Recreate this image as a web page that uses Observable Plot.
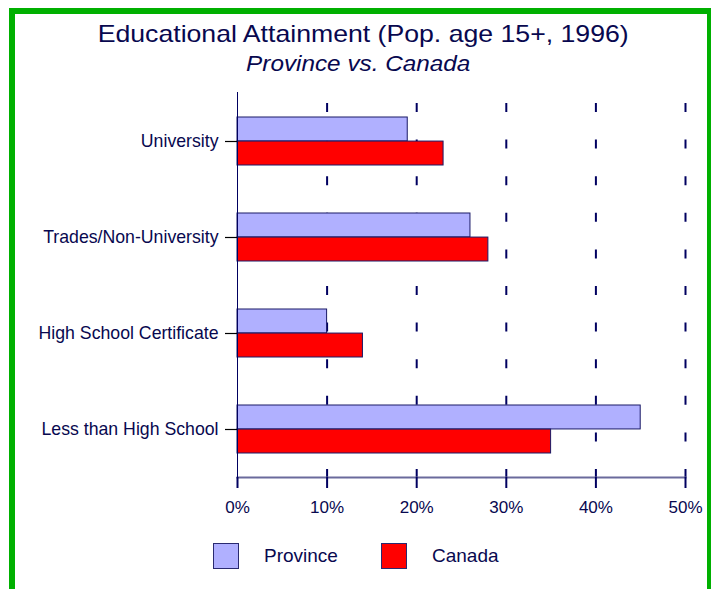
<!DOCTYPE html>
<html>
<head>
<meta charset="utf-8">
<script src="https://cdn.jsdelivr.net/npm/d3@7"></script>
<script src="https://cdn.jsdelivr.net/npm/@observablehq/plot@0.6"></script>
<style>
  html, body { margin: 0; padding: 0; background: #fff; }
  #wrap { position: relative; width: 711px; height: 589px; overflow: hidden; font-family: "Liberation Sans", Arial, sans-serif; color: #08084f; }
  #border { position: absolute; left: 9px; top: 8px; width: 704px; height: 620px; border: 6px solid #00b000; box-sizing: border-box; }
  .ttl { position: absolute; left: 0; width: 711px; text-align: center; white-space: nowrap; line-height: 1; }
  .ttl span { display: inline-block; transform-origin: center; }
  #chart { position: absolute; left: 0; top: 80px; }
  .sw { position: absolute; width: 26px; height: 26px; box-sizing: border-box; border: 1.5px solid #2a2a70; }
  .lt { position: absolute; font-size: 19px; line-height: 1; white-space: nowrap; }
</style>
</head>
<body>
<div id="wrap">
  <div id="border"></div>
  <div class="ttl" id="title" style="top:21.7px; left:7.5px; font-size:24px;"><span style="transform:scaleX(1.11)"></span></div>
  <div class="ttl" id="subtitle" style="top:53.8px; left:2.5px; font-size:21.5px; font-style:italic;"><span style="transform:scaleX(1.13)"></span></div>
  <div id="chart"></div>
  <div id="legend"></div>
</div>
<script>
const titleText = "Educational Attainment (Pop. age 15+, 1996)";
const subtitleText = "Province vs. Canada";
const categories = ["University", "Trades/Non-University", "High School Certificate", "Less than High School"];
const seriesNames = ["Province", "Canada"];
const provinceValues = [19, 26, 10, 45];
const canadaValues = [23, 28, 14, 35];
const xTicks = [0, 10, 20, 30, 40, 50];

const navy = "#000060";
const textColor = "#08084f";
const colors = {Province: "#b0b0ff", Canada: "#ff0000"};

document.querySelector("#title span").textContent = titleText;
document.querySelector("#subtitle span").textContent = subtitleText;

const provData = categories.map((c, i) => ({category: c, series: seriesNames[0], value: provinceValues[i]}));
const canData = categories.map((c, i) => ({category: c, series: seriesNames[1], value: canadaValues[i]}));

const H = 440, mT = 12, mB = 43;
const half = (H - mT - mB) / categories.length * 0.5 / 2;

const chart = Plot.plot({
  width: 711,
  height: H,
  marginTop: mT,
  marginBottom: mB,
  marginLeft: 237,
  marginRight: 26,
  style: {fontFamily: "Liberation Sans, Arial, sans-serif", fontSize: "17px", background: "transparent", overflow: "visible"},
  x: {domain: [0, 50]},
  y: {domain: categories, paddingInner: 0.5, paddingOuter: 0.25},
  marks: [
    Plot.ruleX(xTicks.filter(d => d > 0), {stroke: navy, strokeWidth: 2, strokeDasharray: "9,27.6", strokeDashoffset: 25.6}),
    Plot.barX(provData, {x: "value", y: "category", fill: colors.Province, stroke: "#1a1a66", strokeWidth: 1, insetBottom: half}),
    Plot.barX(canData, {x: "value", y: "category", fill: colors.Canada, stroke: "#1a1a66", strokeWidth: 1, insetTop: half}),
    Plot.frame({anchor: "bottom", stroke: "#6a6a9c", strokeWidth: 2}),
    Plot.ruleX([0], {stroke: navy, strokeWidth: 1}),
    Plot.axisX({ticks: xTicks, tickFormat: d => d + "%", tickSize: 11, tickPadding: 12, stroke: navy, strokeWidth: 2, fill: textColor, fontSize: 17, label: null}),
    Plot.axisY({tickSize: 12, tickPadding: 7, stroke: "black", strokeWidth: 1.2, fill: textColor, fontSize: 17.7, label: null})
  ]
});
document.getElementById("chart").appendChild(chart);

// Legend
const legend = document.getElementById("legend");
const legendItems = [
  {name: seriesNames[0], sx: 213, tx: 264},
  {name: seriesNames[1], sx: 381, tx: 432}
];
legendItems.forEach(it => {
  const sw = document.createElement("div");
  sw.className = "sw";
  sw.style.left = it.sx + "px";
  sw.style.top = "543px";
  sw.style.background = colors[it.name];
  legend.appendChild(sw);
  const t = document.createElement("div");
  t.className = "lt";
  t.style.left = it.tx + "px";
  t.style.top = "545.5px";
  t.textContent = it.name;
  legend.appendChild(t);
});
</script>
</body>
</html>
